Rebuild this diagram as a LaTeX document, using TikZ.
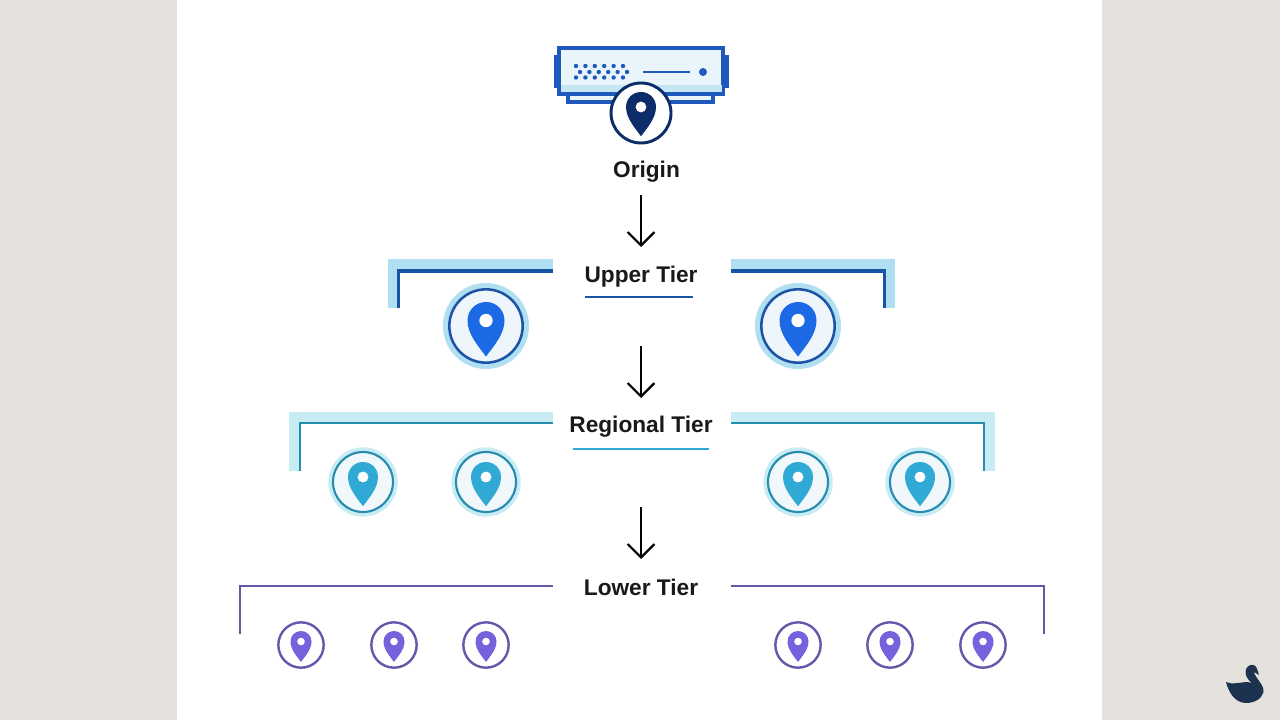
\documentclass[tikz,border=0pt]{standalone}
\usepackage{fontspec}
\setmainfont{Liberation Sans}
\usetikzlibrary{arrows.meta}

\definecolor{pagegrey}{RGB}{229,226,222}
\definecolor{navypin}{RGB}{12,45,105}
\definecolor{serverblue}{RGB}{30,90,190}
\definecolor{serverpale}{RGB}{234,245,251}
\definecolor{serverband}{RGB}{197,230,243}
\definecolor{upperdark}{RGB}{28,84,165}
\definecolor{upperpin}{RGB}{28,105,230}
\definecolor{upperhalo}{RGB}{175,223,240}
\definecolor{upperfill}{RGB}{238,246,251}
\definecolor{regionaldark}{RGB}{40,140,175}
\definecolor{regionalpin}{RGB}{48,170,212}
\definecolor{regionalhalo}{RGB}{200,236,244}
\definecolor{regionalfill}{RGB}{240,248,251}
\definecolor{lowerdark}{RGB}{100,88,170}
\definecolor{lowerpin}{RGB}{118,98,220}
\definecolor{swanblue}{RGB}{28,50,78}

\tikzset{
	tierlabel/.style={font=\bfseries\fontsize{17}{18}\selectfont,text=black!90,inner sep=0pt,anchor=base},
	tierarrow/.style={draw=black,line width=1.7pt,-{Straight Barb[length=10pt,width=20pt,line width=1.7pt]}},
	ringnode/.style={circle,inner sep=0pt,outer sep=0pt},
	originring/.style={ringnode,draw=navypin,fill=white,line width=2.2pt,minimum size=45pt},
	upperring/.style={ringnode,draw=upperdark,fill=upperfill,line width=1.9pt,minimum size=55pt,preaction={draw=upperhalo,line width=9.5pt}},
	regionalring/.style={ringnode,draw=regionaldark,fill=regionalfill,line width=1.6pt,minimum size=45pt,preaction={draw=regionalhalo,line width=7pt}},
	lowerring/.style={ringnode,draw=lowerdark,fill=white,line width=1.8pt,minimum size=34pt},
	pics/pinmark/.style={code={
		\fill[pic actions] (-1,0) .. controls (-1,.56) and (-.56,1) .. (0,1) .. controls (.56,1) and (1,.56) .. (1,0) .. controls (1,-.75) and (.4,-1.4) .. (0,-1.95) .. controls (-.4,-1.4) and (-1,-.75) .. (-1,0) -- cycle;
		\fill[white] (0,0) circle (.36);
	}},
}

\begin{document}
\begin{tikzpicture}[x=0.75pt,y=0.75pt,yscale=-1,xscale=1]
	\useasboundingbox (0,0) rectangle (1280,720);
	
	%Page
	\fill [pagegrey] (0,0) rectangle (1280,720);
	\fill [white] (177,0) rectangle (1102,720);
	
	%Server
	\fill [serverblue] (554,55) rectangle (560,88);
	\fill [serverblue] (723,55) rectangle (729,88);
	\draw [serverblue,fill=serverpale,line width=2.3pt] (568,92) rectangle (713,102);
	\draw [serverblue,fill=serverpale,line width=2.3pt] (559,48) rectangle (723,94);
	\fill [serverband] (560.5,85) rectangle (721.5,92.5);
	\foreach \dotrow/\dotstart in {66/576,72/580,77.5/576}
		\foreach \dotstep in {0,1,2,3,4,5}
			\fill [serverblue] (\dotstart+\dotstep*9.4,\dotrow) circle (2.2);
	\draw [serverblue,line width=1.9pt] (643,72) -- (690,72);
	\fill [serverblue] (703,72) circle (4);
	
	%Tier labels
	\node [tierlabel] (origin) at (646.5,177.5) {Origin};
	\node [tierlabel] (upper) at (641,282) {Upper Tier};
	\node [tierlabel] (regional) at (641,432) {Regional Tier};
	\node [tierlabel] (lower) at (641,595) {Lower Tier};
	
	%Arrows
	\coordinate (arrowa) at (641,195);
	\coordinate (arrowb) at (641,247);
	\coordinate (arrowc) at (641,346);
	\coordinate (arrowd) at (641,398);
	\coordinate (arrowe) at (641,507);
	\coordinate (arrowf) at (641,559);
	\draw [tierarrow] (arrowa) -- (arrowb);
	\draw [tierarrow] (arrowc) -- (arrowd);
	\draw [tierarrow] (arrowe) -- (arrowf);
	
	%Upper brackets
	\draw [upperhalo,line width=8.5pt] (553,265) -- (394,265) -- (394,308);
	\draw [upperhalo,line width=8.5pt] (731,265) -- (889,265) -- (889,308);
	\draw [upperdark,line width=2.4pt] (553,271) -- (398.5,271) -- (398.5,308);
	\draw [upperdark,line width=2.4pt] (731,271) -- (884.5,271) -- (884.5,308);
	\draw [upperdark,line width=2.2pt] (585,297) -- (693,297);
	
	%Regional brackets
	\draw [regionalhalo,line width=8.5pt] (553,417.5) -- (295,417.5) -- (295,471);
	\draw [regionalhalo,line width=8.5pt] (731,417.5) -- (989,417.5) -- (989,471);
	\draw [regionaldark,line width=2.2pt] (553,423) -- (300,423) -- (300,471);
	\draw [regionaldark,line width=2.2pt] (731,423) -- (984,423) -- (984,471);
	\draw [regionalpin,line width=2.2pt] (573,449) -- (709,449);
	
	%Lower brackets
	\draw [lowerdark,line width=1.8pt] (553,586) -- (240,586) -- (240,634);
	\draw [lowerdark,line width=1.8pt] (731,586) -- (1044,586) -- (1044,634);
	
	%Origin pin
	\node [originring] (originpin) at (641,113) {};
	\pic [fill=navypin,scale=15] at (641,107) {pinmark};
	
	%Upper pins
	\foreach \pinx in {486,798} {
		\node [upperring] (upper\pinx) at (\pinx,326) {};
		\pic [fill=upperpin,scale=18.5] at (\pinx,320.5) {pinmark};
	}
	
	%Regional pins
	\foreach \pinx in {363,486,798,920} {
		\node [regionalring] (regional\pinx) at (\pinx,482) {};
		\pic [fill=regionalpin,scale=15] at (\pinx,477) {pinmark};
	}
	
	%Lower pins
	\foreach \pinx in {301,394,486,798,890,983} {
		\node [lowerring] (lower\pinx) at (\pinx,645) {};
		\pic [fill=lowerpin,scale=10.5] at (\pinx,641.5) {pinmark};
	}
	
	%Swan
	\fill [swanblue] (1226,682) .. controls (1232,685) and (1241,682) .. (1248,682) .. controls (1251,682) and (1253,684) .. (1254,686) .. controls (1250,681) and (1245.5,678) .. (1245.5,672) .. controls (1245.5,667) and (1250,664) .. (1253,665) .. controls (1256,665) and (1257,668) .. (1259,675) .. controls (1257,674) and (1256,673) .. (1254,672) .. controls (1255,678) and (1264,684) .. (1263.5,692) .. controls (1262,699) and (1254,703) .. (1246,703) .. controls (1236,703) and (1229,694) .. (1226,682) -- cycle;
	
\end{tikzpicture}
\end{document}
